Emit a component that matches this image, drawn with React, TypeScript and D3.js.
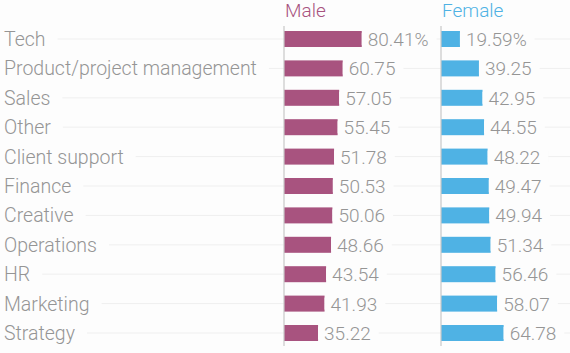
import { useEffect, useRef } from "react";
import * as d3 from "d3";

const categories = [
	"Tech",
	"Product/project management",
	"Sales",
	"Other",
	"Client support",
	"Finance",
	"Creative",
	"Operations",
	"HR",
	"Marketing",
	"Strategy",
];
const maleValues = [80.41, 60.75, 57.05, 55.45, 51.78, 50.53, 50.06, 48.66, 43.54, 41.93, 35.22];
const femaleValues = [19.59, 39.25, 42.95, 44.55, 48.22, 49.47, 49.94, 51.34, 56.46, 58.07, 64.78];
const seriesNames = ["Male", "Female"];

const W = 570;
const H = 353;
const BG = "#fdfdfd";
const GRID = "#efefef";
const TEXT = "#959595";
const colors = ["#a8537f", "#4fb2e4"];
const FONT = "Roboto, 'Open Sans', sans-serif";

const App = () => {
	const svgRef = useRef<SVGSVGElement>(null);

	useEffect(() => {
		if (!svgRef.current) return;
		const svg = d3.select(svgRef.current);
		svg.selectAll("*").remove();

		svg.append("rect").attr("width", W).attr("height", H).attr("fill", BG);

		// row centres
		const y = d3.scalePoint<string>().domain(categories).range([39, 333]);
		const barH = 16;

		// both panels share one scale
		const x = d3.scaleLinear().domain([0, 100]).range([0, 96.7]);
		const panelX = [284, 441];
		const series = [maleValues, femaleValues];

		// gridlines across the whole width
		svg
			.append("g")
			.selectAll("line")
			.data(categories)
			.join("line")
			.attr("x1", 0)
			.attr("x2", W)
			.attr("y1", (d) => y(d)!)
			.attr("y2", (d) => y(d)!)
			.attr("stroke", GRID)
			.attr("stroke-width", 1);

		// category labels, with a knock-out behind them
		const labels = svg.append("g");
		categories.forEach((c) => {
			const g = labels.append("g");
			const bg = g.append("rect").attr("fill", BG);
			const t = g
				.append("text")
				.attr("x", 4)
				.attr("y", y(c)! + 7)
				.attr("fill", TEXT)
				.style("font-family", FONT)
				.style("font-size", "19.5px")
				.style("font-weight", 300)
				.text(c);
			const len = (t.node() as SVGTextElement).getComputedTextLength();
			bg.attr("x", 0)
				.attr("y", y(c)! - 6)
				.attr("width", 4 + len + 12)
				.attr("height", 12);
		});

		series.forEach((vals, s) => {
			const g = svg.append("g").attr("transform", `translate(${panelX[s]},0)`);

			// header
			g.append("text")
				.attr("x", 1)
				.attr("y", 17)
				.attr("fill", colors[s])
				.style("font-family", FONT)
				.style("font-size", "19px")
				.style("font-weight", 300)
				.text(seriesNames[s]);

			// bars
			g.selectAll("rect.bar")
				.data(vals)
				.join("rect")
				.attr("class", "bar")
				.attr("x", 0)
				.attr("y", (_d, i) => y(categories[i])! - barH / 2)
				.attr("width", (d) => x(d))
				.attr("height", barH)
				.attr("fill", colors[s]);

			// values
			vals.forEach((v, i) => {
				const vg = g.append("g");
				const bg = vg.append("rect").attr("fill", BG);
				const label = i === 0 ? `${v.toFixed(2)}%` : v.toFixed(2);
				const t = vg
					.append("text")
					.attr("x", x(v) + 6)
					.attr("y", y(categories[i])! + 7)
					.attr("fill", TEXT)
					.style("font-family", FONT)
					.style("font-size", "19px")
					.style("font-weight", 300)
					.text(label);
				const len = (t.node() as SVGTextElement).getComputedTextLength();
				bg.attr("x", x(v))
					.attr("y", y(categories[i])! - 6)
					.attr("width", len + 14)
					.attr("height", 12);
			});

			// axis line
			g.append("line")
				.attr("x1", 0)
				.attr("x2", 0)
				.attr("y1", 26)
				.attr("y2", 346)
				.attr("stroke", "#c8c8c8")
				.attr("stroke-width", 1.2);
		});
	}, []);

	return (
		<svg
			ref={svgRef}
			width={W}
			height={H}
			style={{ display: "block", position: "absolute", left: 0, top: 0 }}
		/>
	);
};

export default App;
